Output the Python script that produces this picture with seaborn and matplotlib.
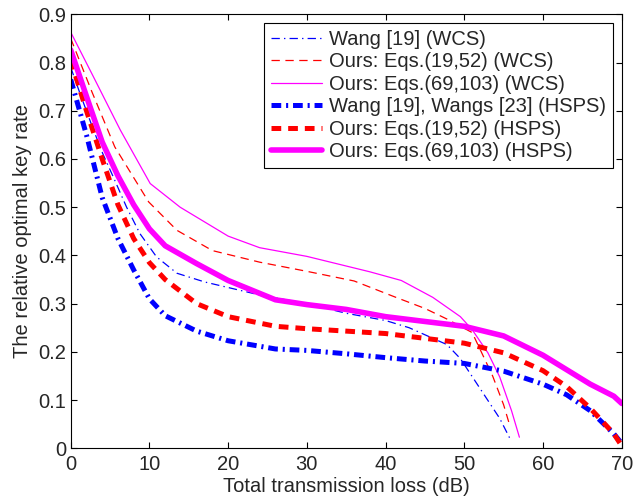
import matplotlib
matplotlib.use("Agg")
import matplotlib.pyplot as plt
import pandas as pd
import seaborn as sns

# ---- data ----
wcs_wang_x = [0, 1.2, 2.9, 4.1, 5.4, 7.1, 8.8, 10.9, 13.5, 17, 24, 30, 35, 40, 43, 47.8, 49.5, 52, 54.5, 55.9]
wcs_wang_y = [0.79, 0.735, 0.66, 0.61, 0.563, 0.50, 0.445, 0.397, 0.363, 0.345, 0.318, 0.30, 0.28, 0.265, 0.25, 0.215, 0.186, 0.124, 0.062, 0.017]

wcs_ours1_x = [0, 2.7, 5.6, 9.9, 13.5, 18, 24, 30, 36, 41, 45, 47.8, 51, 53.6, 55, 55.8]
wcs_ours1_y = [0.85, 0.739, 0.625, 0.511, 0.452, 0.41, 0.386, 0.367, 0.347, 0.315, 0.29, 0.268, 0.24, 0.15, 0.09, 0.046]

wcs_ours2_x = [0, 2.9, 6.3, 10.1, 13.9, 20, 24, 30, 38, 42, 46, 49.5, 51, 53, 54.5, 56, 57]
wcs_ours2_y = [0.863, 0.77, 0.66, 0.549, 0.50, 0.44, 0.416, 0.398, 0.366, 0.348, 0.313, 0.273, 0.246, 0.198, 0.148, 0.078, 0.023]

hsps_x = [0, 2, 4, 6, 8, 10, 12, 16, 20, 26, 30, 35, 40, 45, 50, 55, 60, 63, 66, 69, 70]
hsps_wang_y = [0.765, 0.65, 0.52, 0.435, 0.37, 0.31, 0.275, 0.243, 0.223, 0.206, 0.203, 0.196, 0.188, 0.181, 0.176, 0.16, 0.133, 0.111, 0.078, 0.03, 0.01]
hsps_ours1_y = [0.805, 0.70, 0.60, 0.505, 0.435, 0.385, 0.35, 0.30, 0.273, 0.253, 0.248, 0.243, 0.238, 0.228, 0.218, 0.198, 0.161, 0.128, 0.083, 0.03, 0.005]
hsps_ours2_y = [0.826, 0.73, 0.635, 0.565, 0.505, 0.455, 0.42, 0.383, 0.348, 0.308, 0.298, 0.288, 0.273, 0.263, 0.253, 0.233, 0.193, 0.163, 0.133, 0.108, 0.093]

names = [
    "Wang [19] (WCS)",
    "Ours: Eqs.(19,52) (WCS)",
    "Ours: Eqs.(69,103) (WCS)",
    "Wang [19], Wangs [23] (HSPS)",
    "Ours: Eqs.(19,52) (HSPS)",
    "Ours: Eqs.(69,103) (HSPS)",
]
series_x = [wcs_wang_x, wcs_ours1_x, wcs_ours2_x, hsps_x, hsps_x, hsps_x]
series_y = [wcs_wang_y, wcs_ours1_y, wcs_ours2_y, hsps_wang_y, hsps_ours1_y, hsps_ours2_y]

x_ticks = list(range(0, 71, 10))
y_ticks = [0, 0.1, 0.2, 0.3, 0.4, 0.5, 0.6, 0.7, 0.8, 0.9]
y_tick_labels = ["0", "0.1", "0.2", "0.3", "0.4", "0.5", "0.6", "0.7", "0.8", "0.9"]

df = pd.concat(
    [pd.DataFrame({"loss": x, "rate": y, "series": n}) for n, x, y in zip(names, series_x, series_y)],
    ignore_index=True,
)

# ---- styling ----
sns.set_theme(style="ticks")
plt.rcParams["font.family"] = ["Liberation Sans", "DejaVu Sans"]
plt.rcParams["lines.scale_dashes"] = False
plt.rcParams["xtick.direction"] = "in"
plt.rcParams["ytick.direction"] = "in"

palette = dict(zip(names, ["#0000ff", "#ff0000", "#ff00ff", "#0000ff", "#ff0000", "#ff00ff"]))
sizes = dict(zip(names, [0.9, 0.9, 0.9, 3.6, 3.6, 4.0]))
dashes = dict(zip(names, [
    (6, 3, 1, 3),
    (6, 4),
    "",
    (7, 3.5, 1.5, 3.5),
    (7, 5),
    "",
]))

fs = 14.5
fig = plt.figure(figsize=(6.33, 5.0), dpi=100)
ax = fig.add_axes([0.1117, 0.1034, 0.8705, 0.868])

sns.lineplot(
    data=df, x="loss", y="rate",
    hue="series", style="series", size="series",
    hue_order=names, style_order=names, size_order=names,
    palette=palette, sizes=sizes, dashes=dashes,
    sort=False, estimator=None, legend=False, ax=ax,
)

ax.set_xlim(0, 70)
ax.set_ylim(0, 0.9)
ax.set_xticks(x_ticks)
ax.set_yticks(y_ticks)
ax.set_yticklabels(y_tick_labels)
ax.tick_params(axis="y", labelsize=fs, length=4, width=0.8, pad=3, right=True, color="black")
ax.tick_params(axis="x", labelsize=fs, length=4, width=0.8, pad=5, top=True, color="black")
ax.set_xlabel("Total transmission loss (dB)", fontsize=fs, labelpad=2)
ax.set_ylabel("The relative optimal key rate", fontsize=fs, labelpad=5)
for s in ax.spines.values():
    s.set_visible(True)
    s.set_color("black")
    s.set_linewidth(0.8)

leg = ax.legend(
    ax.lines[:len(names)], names, loc="upper right", bbox_to_anchor=(0.984, 0.98),
    fontsize=fs, frameon=True, fancybox=False, edgecolor="black", framealpha=1,
    handlelength=2.5, borderaxespad=0, labelspacing=0.17, handletextpad=0.35, borderpad=0.35,
)
leg.get_frame().set_linewidth(0.8)

fig.savefig("out.png", dpi=100)
